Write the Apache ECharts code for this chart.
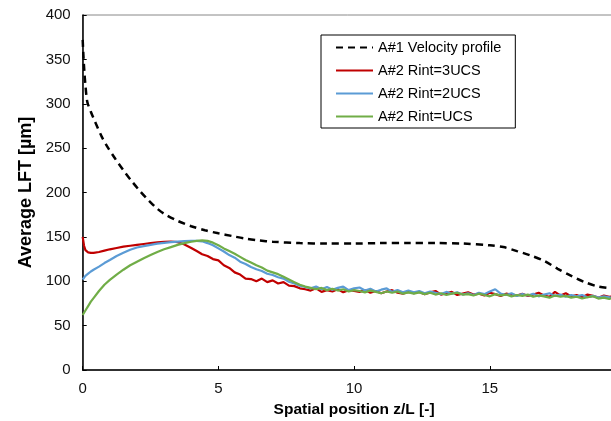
<!DOCTYPE html>
<html>
<head>
<meta charset="utf-8">
<script src="https://cdn.jsdelivr.net/npm/echarts@6/dist/echarts.min.js"></script>
<style>
html,body{margin:0;padding:0;background:#fff;}
#chart{width:611px;height:421px;}
</style>
</head>
<body>
<div id="chart"></div>
<script>
// ---- data ----
const seriesNames = ['A#1 Velocity profile', 'A#2 Rint=3UCS', 'A#2 Rint=2UCS', 'A#2 Rint=UCS'];
const xTicks = [0, 5, 10, 15, 20];
const yTicks = [0, 50, 100, 150, 200, 250, 300, 350, 400];

// velocity profile (A#1)
const zVel = [0, 0.03, 0.06, 0.1, 0.17, 0.3, 0.45, 0.7, 0.9, 1.2, 1.5, 1.8, 2.1, 2.4, 2.7, 3.0, 3.5, 4.0, 4.5, 5.0, 5.5, 6.0, 6.5, 7.0, 8.0, 9.0, 10, 11, 12, 13, 14, 15, 15.5, 16, 16.5, 17, 17.5, 18, 18.5, 19, 19.5, 20];
const velProfile = [372, 352, 337, 321, 302, 291, 280, 263, 252, 238, 225, 213, 202, 192, 183, 176, 168, 162, 157.5, 154, 151, 148, 146, 144.5, 143, 142.5, 142.5, 143, 143, 143, 142.5, 140.5, 138.5, 134, 129, 123, 114, 106, 99, 94, 92, 91];

// shared positions for the A#2 series
const zPos = [0, 0.05, 0.1, 0.2, 0.3, 0.4, 0.6, 0.8, 1.0, 1.25, 1.5, 1.75, 2.0, 2.25, 2.5, 2.75, 3.0, 3.25, 3.5, 3.75, 4.0,
  4.2, 4.4, 4.6, 4.8, 5.0, 5.2, 5.4, 5.6, 5.8, 6.0,
  6.2, 6.4, 6.6, 6.8, 7.0, 7.2, 7.4, 7.6, 7.8, 8.0,
  8.2, 8.4, 8.6, 8.8, 9.0, 9.2, 9.4, 9.6, 9.8, 10.0,
  10.2, 10.4, 10.6, 10.8, 11.0, 11.2, 11.4, 11.6, 11.8, 12.0,
  12.2, 12.4, 12.6, 12.8, 13.0, 13.2, 13.4, 13.6, 13.8, 14.0,
  14.2, 14.4, 14.6, 14.8, 15.0, 15.2, 15.4, 15.6, 15.8, 16.0,
  16.2, 16.4, 16.6, 16.8, 17.0, 17.2, 17.4, 17.6, 17.8, 18.0,
  18.2, 18.4, 18.6, 18.8, 19.0, 19.2, 19.4, 19.6, 19.8, 20.0];

const rint3 = [150, 140, 135, 132.5, 132, 132, 133, 134.5, 136, 137.5, 139, 140, 141, 142, 143, 143.7, 144.3, 144.8, 144, 141.5, 137.5,
  134, 130.5, 128.5, 125, 123.5, 118, 115, 110, 107.5, 103,
  102.5, 100, 103, 99, 101, 97.5, 99, 95, 94.5, 92,
  91, 89.5, 92, 88, 90, 88.5, 91, 87.5, 90, 89,
  88, 90, 87, 89, 86.5, 88.5, 90, 87, 86, 88,
  86.5, 88, 85.5, 87.5, 89, 85, 86.5, 88, 84.5, 86,
  87.5, 85, 86, 84, 87, 85.5, 83.5, 86, 85, 84,
  86, 83.5, 85, 87, 84, 82.5, 88, 84, 86.5, 83,
  84.5, 82, 85, 83.5, 81.5, 84, 82.5, 83, 81, 82.5];

const rint2 = [102, 104, 106, 108.5, 111, 113, 116.5, 120.5, 124, 128.5, 132, 135.5, 138, 139.5, 141, 142.3, 143.3, 144, 144.7, 145.2, 145.5,
  145.5, 145, 143, 140.5, 137, 133.5, 129.5, 126.5, 122, 119.5,
  116, 113.5, 111.5, 108.5, 107, 104.5, 103, 99.5, 97.5, 95,
  93.5, 92, 94, 91, 93.5, 90.5, 92.5, 94, 90, 92,
  93, 89.5, 91.5, 88.5, 90.5, 92, 88, 90, 87.5, 89.5,
  87.5, 89, 86.5, 88.5, 87, 85.5, 88, 86, 87.5, 85,
  86.5, 84.5, 87, 85.5, 88.5, 91, 86, 84.5, 86.5, 83.5,
  85.5, 84, 86, 83, 85, 86.5, 83.5, 85, 82.5, 84.5,
  83, 84.5, 82, 83.5, 81.5, 83, 82, 80.5, 82, 81];

const rint1 = [62, 64, 67, 72, 77, 81, 89, 96, 101.5, 107.5, 113, 118, 122, 126, 129.5, 133, 136, 138.5, 141, 143, 144.5,
  145.5, 146, 145.5, 143.5, 140.5, 137, 134, 131, 127.5, 124,
  121, 118, 115.5, 112, 110, 108, 105, 102, 99, 96,
  94, 92.5, 91, 92.5, 90, 91.5, 89.5, 91, 88.5, 90,
  89, 87.5, 89.5, 88, 86.5, 88.5, 87, 88.5, 86, 87.5,
  86, 87.5, 85.5, 87, 85, 86.5, 84.5, 86, 87, 85,
  85.5, 84, 86, 84.5, 83, 85.5, 84, 85, 83, 84.5,
  83.5, 85, 82.5, 84, 83, 81.5, 84, 82.5, 83.5, 81.5,
  82.5, 80.5, 82, 83, 80.5, 81.5, 80, 82, 80.5, 81];

// ---- build ----
function pairs(xs, ys) { return xs.map((x, i) => [x, ys[i]]); }
const FONT = '"Liberation Sans", Arial, sans-serif';

const chart = echarts.init(document.getElementById('chart'), null, {renderer: 'canvas'});
chart.setOption({
  animation: false,
  backgroundColor: '#fff',
  grid: {left: 82.7, width: 542.8, top: 15, height: 355, show: true, borderColor: '#888', borderWidth: 1,
    containLabel: false, outerBoundsMode: 'none'},
  legend: {
    orient: 'vertical', left: 321, top: 35,
    padding: [5, 14, 4, 14], itemGap: 8, itemWidth: 37, itemHeight: 14,
    borderColor: '#000', borderWidth: 1, backgroundColor: '#fff',
    itemStyle: {opacity: 0},
    textStyle: {fontFamily: FONT, fontSize: 14.5, color: '#000'},
    data: seriesNames
  },
  xAxis: {
    type: 'value', min: 0, max: 20, interval: 5,
    name: 'Spatial position z/L [-]', nameLocation: 'middle', nameGap: 32,
    nameTextStyle: {fontFamily: FONT, fontSize: 15.5, fontWeight: 'bold', color: '#000'},
    axisLine: {show: true, lineStyle: {color: '#000', width: 1.5}},
    axisTick: {show: true, inside: true, length: 4, lineStyle: {color: '#000'}},
    axisLabel: {fontFamily: FONT, fontSize: 15, color: '#111', margin: 11,
      formatter: v => xTicks.includes(v) ? String(v) : ''},
    splitLine: {show: false}
  },
  yAxis: {
    type: 'value', min: 0, max: 400, interval: 50,
    name: 'Average LFT [µm]', nameLocation: 'middle', nameGap: 48,
    nameTextStyle: {fontFamily: FONT, fontSize: 18, fontWeight: 'bold', color: '#000'},
    axisLine: {show: true, lineStyle: {color: '#000', width: 1.5}},
    axisTick: {show: true, inside: true, length: 4, lineStyle: {color: '#000'}},
    axisLabel: {fontFamily: FONT, fontSize: 15, color: '#111', margin: 12,
      formatter: v => yTicks.includes(v) ? String(v) : ''},
    splitLine: {show: false}
  },
  series: [
    {name: seriesNames[0], type: 'line', data: pairs(zVel, velProfile), smooth: 0.3, symbol: 'none',
      lineStyle: {color: '#000', width: 2.5, type: [7, 5]}, itemStyle: {color: '#000'}},
    {name: seriesNames[1], type: 'line', data: pairs(zPos, rint3), symbol: 'none',
      lineStyle: {color: '#C00000', width: 2.2}, itemStyle: {color: '#C00000'}},
    {name: seriesNames[2], type: 'line', data: pairs(zPos, rint2), symbol: 'none',
      lineStyle: {color: '#5B9BD5', width: 2.2}, itemStyle: {color: '#5B9BD5'}},
    {name: seriesNames[3], type: 'line', data: pairs(zPos, rint1), symbol: 'none',
      lineStyle: {color: '#70AD47', width: 2.2}, itemStyle: {color: '#70AD47'}}
  ]
});
</script>
</body>
</html>
